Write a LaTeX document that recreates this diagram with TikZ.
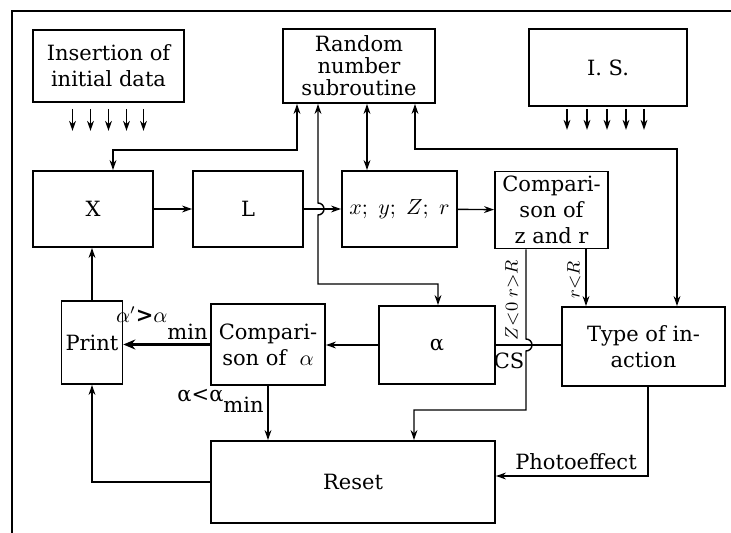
\documentclass[tikz,border=0pt]{standalone}
\usepackage{fontspec}
\setmainfont{DejaVu Serif}
\usetikzlibrary{positioning,calc,arrows.meta}
\tikzset{
  box/.style   ={draw, line width=0.9pt, align=center, inner sep=2pt,
                 font=\fontsize{10.5}{13}\selectfont},
  arr/.style   ={-{Stealth[length=5pt,width=3.4pt]}, line width=0.7pt},
  biarr/.style ={{Stealth[length=5pt,width=3.4pt]}-{Stealth[length=5pt,width=3.4pt]}, line width=0.7pt},
  thk/.style   ={-{Stealth[length=6pt,width=5pt]}, line width=1.8pt},
  wire/.style  ={line width=0.7pt},
  lab/.style   ={font=\fontsize{10.5}{12}\selectfont, inner sep=1pt},
  rlab/.style  ={font=\fontsize{9}{10}\selectfont, inner sep=0pt, rotate=90},
}

\begin{document}
\begin{tikzpicture}[x=0.5pt, y=-0.5pt]
  \useasboundingbox (0,0) rectangle (731,533);

  % ---- frame ----
  \draw[line width=0.9pt] (12,533) -- (12,11) -- (731,11);

  % ---- top row ----
  \node[box, minimum width=75.5pt, minimum height=36pt] (ins) at (108.5,66) {Insertion of\\initial data};
  \node[box, minimum width=76pt, minimum height=37pt, font=\fontsize{10.5}{11}\selectfont] (rng) at (359,66) {Random\\number\\subroutine};
  \node[box, minimum width=79pt, minimum height=38.5pt] (is) at (608,67.5) {I. S.};

  \foreach \dx in {-36,-18,0,18,35}
    \draw[arr] ([xshift=\dx*0.5pt, yshift=-3pt]ins.south) -- ++(0,22);
  \foreach \dx in {-41,-21,-1,18,36}
    \draw[arr] ([xshift=\dx*0.5pt, yshift=-1pt]is.south) -- ++(0,21);

  % ---- second row ----
  \node[box, minimum width=60pt, minimum height=38pt] (X) at (93,209) {X};
  \node[box, minimum width=55pt, minimum height=38pt] (L) at (248,209) {L};
  \node[box, minimum width=57.5pt, minimum height=38pt] (xyz) at (399.5,209) {$x;\ y;\ Z;\ r$};
  \node[box, minimum width=56.5pt, minimum height=38.5pt] (cmpz) at (551.5,210) {Compari-\\son of\\z and r};

  \draw[arr] (X) -- (L);
  \draw[arr] (L) -- (xyz);
  \draw[arr] (xyz) -- (cmpz);

  % ---- third row ----
  \node[box, minimum width=30pt, minimum height=41.5pt] (print) at (92,342.5) {Print};
  \node[box, minimum width=57pt, minimum height=40.5pt] (cmpa) at (268,344.5) {Compari-\\son of\ \ $\alpha$};
  \node[box, minimum width=58pt, minimum height=39pt] (alpha) at (437,345) {α};
  \node[box, minimum width=81.5pt, minimum height=39.5pt] (type) at (643.5,346.5) {Type of in-\\action};

  \node[box, minimum width=142pt, minimum height=41pt] (reset) at (353,482) {Reset};

  % ---- routing points ----
  \coordinate (ka) at (297,150);
  \coordinate (kb) at (113,150);
  \coordinate (ra) at (318,284);
  \coordinate (rb) at (438,284);
  \coordinate (rc) at (367,150);
  \coordinate (rd) at (415,149);
  \coordinate (re) at (677,149);
  \coordinate (za) at (526,410);
  \coordinate (zb) at (414,410);
  \coordinate (zr) at (586,300);
  \coordinate (ph) at (648,476);

  % random number subroutine links
  \draw[biarr] (rng.south -| ka) -- (ka) -- (kb) -- (X.north -| kb);
  \draw[biarr] (rng.south -| ra) -- ($(L.east -| ra)+(0,-6)$)
        arc[start angle=90, end angle=-90, radius=3pt] -- (ra) -- (rb) -- (alpha.north -| rb);
  \draw[biarr] (rng.south -| rc) -- (xyz.north -| rc);
  \draw[biarr] (rng.south -| rd) -- (rd) -- (re) -- (type.north -| re);

  % comparison of z and r
  \draw[arr] (cmpz.south -| za) -- ($(alpha.east -| za)+(0,-6)$)
        arc[start angle=90, end angle=-90, radius=3pt] -- (za) -- (zb) -- (reset.north -| zb);
  \draw[arr] (cmpz.south -| zr) -- (type.north -| zr);
  \node[rlab] at (512,300) {$Z{<}0\;r{>}R$};
  \node[rlab] at (574,280) {$r{<}R$};

  % alpha, type, comparison of alpha
  \draw[wire] (type.west |- alpha.east) -- (alpha.east);
  \node[lab] at (509,361) {CS};
  \draw[arr] (alpha.west) -- (alpha.west -| cmpa.east);
  \draw[thk] (cmpa.west) -- (cmpa.west -| print.east);
  \node[lab, anchor=south east] at (210,342) {$\alpha'$\textbf{>}$\alpha$\raisebox{-1.6ex}{min}};
  \draw[arr] (cmpa.south) -- (cmpa.south |- reset.north);
  \node[lab, anchor=north east] at (266,387) {α<α\raisebox{-1.0ex}{min}};

  % print and reset
  \draw[arr] (print.north) -- (print.north |- X.south);
  \draw[arr] (reset.west) -| (print.south);
  \draw[arr] (type.south -| ph) -- (ph) -- (reset.east |- ph);
  \node[lab, anchor=south] at (576,472) {Photoeffect};

\end{tikzpicture}
\end{document}
